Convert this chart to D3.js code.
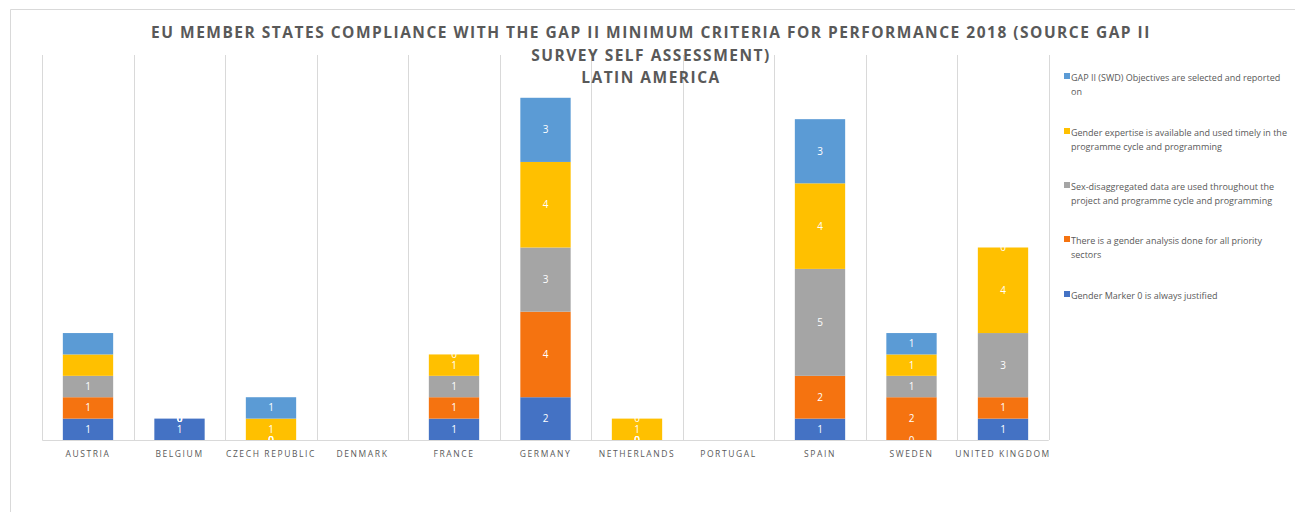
<!DOCTYPE html>
<html>
<head>
  <meta charset="utf-8">
  <title>GAP II compliance - Latin America</title>
  <script src="https://d3js.org/d3.v7.min.js"></script>
  <style>
    body { margin: 0; background: #fff; }
    text { font-family: "Open Sans", "Liberation Sans", sans-serif; }
  </style>
</head>
<body>
  <div id="chart"></div>
  <script>
    // Länder (x-Achse)
    var countries = ['AUSTRIA', 'BELGIUM', 'CZECH REPUBLIC', 'DENMARK', 'FRANCE', 'GERMANY',
      'NETHERLANDS', 'PORTUGAL', 'SPAIN', 'SWEDEN', 'UNITED KINGDOM'];

    // Reihen von unten nach oben
    var seriesNames = [
      'Gender Marker 0 is always justified',
      'There is a gender analysis done for all priority sectors',
      'Sex-disaggregated  data are used throughout the project and programme cycle and programming',
      'Gender expertise is available and used timely in the programme cycle and programming',
      'GAP II (SWD) Objectives are selected and reported on'
    ];
    var seriesColors = ['#4472c4', '#f57310', '#a5a5a5', '#ffc000', '#5b9bd5'];

    var markerValues    = [1, 1, 0, 0, 1, 2, 0, 0, 1, 0, 1];
    var analysisValues  = [1, 0, 0, 0, 1, 4, 0, 0, 2, 2, 1];
    var sexDataValues   = [1, 0, 0, 0, 1, 3, 0, 0, 5, 1, 3];
    var expertiseValues = [1, 0, 1, 0, 1, 4, 1, 0, 4, 1, 4];
    var objectiveValues = [1, 0, 1, 0, 0, 3, 0, 0, 3, 1, 0];

    // Beschriftungen, die im Original fehlen: [Reihe, Land]
    var hiddenLabels = [[3, 0], [4, 0]];

    var legendLines = [
      ['GAP II (SWD) Objectives are selected and reported', 'on'],
      ['Gender expertise is available and used timely in the', 'programme cycle and programming'],
      ['Sex-disaggregated  data are used throughout the', 'project and programme cycle and programming'],
      ['There is a gender analysis done for all priority', 'sectors'],
      ['Gender Marker 0 is always justified']
    ];

    var titleLines = [
      'EU MEMBER STATES COMPLIANCE WITH THE GAP II MINIMUM CRITERIA FOR PERFORMANCE 2018 (SOURCE GAP II',
      'SURVEY SELF ASSESSMENT)',
      'LATIN AMERICA'
    ];

    var width = 1295, height = 512;
    var plotLeft = 42.25, plotRight = 1048.75, plotTop = 55, plotBottom = 440;

    var allValues = [markerValues, analysisValues, sexDataValues, expertiseValues, objectiveValues];

    var table = countries.map(function (c, i) {
      var row = { country: c };
      allValues.forEach(function (vals, s) { row['s' + s] = vals[i]; });
      return row;
    });
    var keys = allValues.map(function (v, s) { return 's' + s; });
    var stacked = d3.stack().keys(keys)(table);

    var x = d3.scaleBand().domain(countries).range([plotLeft, plotRight]).paddingInner(0.45).paddingOuter(0.225);
    var xGrid = d3.scaleBand().domain(countries).range([plotLeft, plotRight]);
    var y = d3.scaleLinear().domain([0, 18]).range([plotBottom, plotTop]);

    var svg = d3.select('#chart').append('svg')
      .attr('width', width).attr('height', height);

    // Beschriftungen enden an der x-Achse
    svg.append('clipPath').attr('id', 'plotClip')
      .append('rect')
      .attr('x', plotLeft).attr('y', 0)
      .attr('width', plotRight - plotLeft).attr('height', plotBottom);

    // Rahmen
    svg.append('path')
      .attr('d', 'M10.5,' + height + 'V9.5H' + width)
      .attr('fill', 'none').attr('stroke', '#d9d9d9');

    // vertikale Gitterlinien
    var gridX = countries.map(function (c) { return xGrid(c); }).concat([plotRight]);
    svg.selectAll('line.grid').data(gridX).enter().append('line')
      .attr('class', 'grid')
      .attr('x1', function (d) { return Math.round(d) + 0.5; })
      .attr('x2', function (d) { return Math.round(d) + 0.5; })
      .attr('y1', plotTop).attr('y2', plotBottom)
      .attr('stroke', '#d9d9d9');

    // Balken
    var groups = svg.selectAll('g.series').data(stacked).enter().append('g')
      .attr('class', 'series')
      .attr('fill', function (d, i) { return seriesColors[i]; });

    groups.selectAll('rect').data(function (d) { return d; }).enter().append('rect')
      .attr('x', function (d) { return x(d.data.country); })
      .attr('width', x.bandwidth())
      .attr('y', function (d) { return y(d[1]); })
      .attr('height', function (d) { return y(d[0]) - y(d[1]); });

    // x-Achse
    svg.append('line')
      .attr('x1', plotLeft).attr('x2', plotRight)
      .attr('y1', plotBottom + 0.5).attr('y2', plotBottom + 0.5)
      .attr('stroke', '#d9d9d9');

    // Werte-Beschriftungen
    var labelLayer = svg.append('g').attr('clip-path', 'url(#plotClip)');
    stacked.forEach(function (layer, s) {
      labelLayer.append('g').selectAll('text').data(layer).enter().append('text')
        .filter(function (d, i) {
          return !hiddenLabels.some(function (h) { return h[0] === s && h[1] === i; });
        })
        .attr('x', function (d) { return x(d.data.country) + x.bandwidth() / 2; })
        .attr('y', function (d) { return (y(d[0]) + y(d[1])) / 2 + 3.5; })
        .attr('text-anchor', 'middle')
        .attr('font-size', 10)
        .attr('fill', '#fff')
        .text(function (d) { return d[1] - d[0]; });
    });

    svg.append('g').selectAll('text').data(countries).enter().append('text')
      .attr('x', function (d) { return x(d) + x.bandwidth() / 2; })
      .attr('y', 457)
      .attr('text-anchor', 'middle')
      .attr('font-size', 8.5)
      .attr('letter-spacing', 1.6)
      .attr('fill', '#595959')
      .text(function (d) { return d; });

    // Titel
    svg.append('g').selectAll('text').data(titleLines).enter().append('text')
      .attr('x', 651)
      .attr('y', function (d, i) { return [38, 61, 83][i]; })
      .attr('text-anchor', 'middle')
      .attr('font-size', 15.5)
      .attr('font-weight', 'bold')
      .attr('letter-spacing', 1.5)
      .attr('fill', '#595959')
      .text(function (d) { return d; });

    // Legende
    var legendColors = seriesColors.slice().reverse();
    var legend = svg.append('g').selectAll('g').data(legendLines).enter().append('g')
      .attr('transform', function (d, i) { return 'translate(1064,' + [81, 136, 190, 244, 299][i] + ')'; });
    legend.append('rect')
      .attr('x', 0).attr('y', -8).attr('width', 6).attr('height', 6)
      .attr('fill', function (d, i) { return legendColors[i]; });
    legend.selectAll('text').data(function (d) { return d; }).enter().append('text')
      .attr('x', 7)
      .attr('y', function (d, j) { return j * 14; })
      .attr('font-size', 9)
      .attr('fill', '#595959')
      .text(function (d) { return d; });
  </script>
</body>
</html>
